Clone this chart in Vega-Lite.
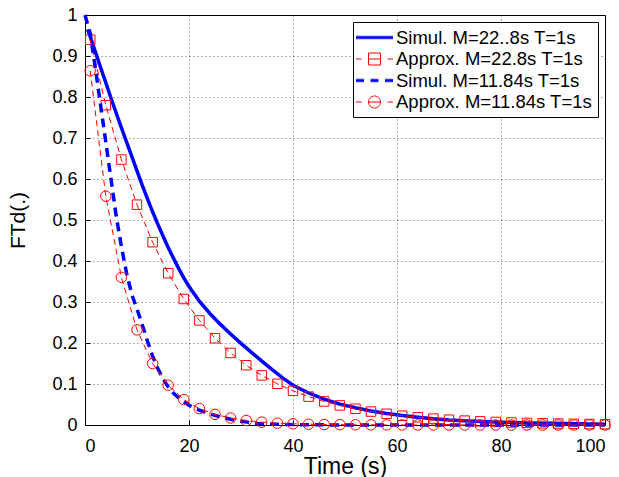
{
  "$schema": "https://vega.github.io/schema/vega-lite/v6.json",
  "width": 520,
  "height": 410,
  "autosize": "none",
  "padding": {"left": 85, "top": 15, "right": 14, "bottom": 52},
  "background": "white",
  "datasets": {
    "simul": [
      {"series": "Simul. M=22..8s T=1s", "t": 0.5, "F": 0.965},
      {"series": "Simul. M=22..8s T=1s", "t": 1, "F": 0.947},
      {"series": "Simul. M=22..8s T=1s", "t": 2, "F": 0.91},
      {"series": "Simul. M=22..8s T=1s", "t": 3, "F": 0.872},
      {"series": "Simul. M=22..8s T=1s", "t": 4, "F": 0.835},
      {"series": "Simul. M=22..8s T=1s", "t": 5, "F": 0.797},
      {"series": "Simul. M=22..8s T=1s", "t": 6, "F": 0.761},
      {"series": "Simul. M=22..8s T=1s", "t": 7, "F": 0.725},
      {"series": "Simul. M=22..8s T=1s", "t": 8, "F": 0.69},
      {"series": "Simul. M=22..8s T=1s", "t": 9, "F": 0.655},
      {"series": "Simul. M=22..8s T=1s", "t": 10, "F": 0.62},
      {"series": "Simul. M=22..8s T=1s", "t": 11, "F": 0.585},
      {"series": "Simul. M=22..8s T=1s", "t": 12, "F": 0.552},
      {"series": "Simul. M=22..8s T=1s", "t": 13, "F": 0.52},
      {"series": "Simul. M=22..8s T=1s", "t": 14, "F": 0.49},
      {"series": "Simul. M=22..8s T=1s", "t": 15, "F": 0.461},
      {"series": "Simul. M=22..8s T=1s", "t": 16, "F": 0.433},
      {"series": "Simul. M=22..8s T=1s", "t": 17, "F": 0.407},
      {"series": "Simul. M=22..8s T=1s", "t": 18, "F": 0.382},
      {"series": "Simul. M=22..8s T=1s", "t": 19, "F": 0.359},
      {"series": "Simul. M=22..8s T=1s", "t": 20, "F": 0.338},
      {"series": "Simul. M=22..8s T=1s", "t": 22, "F": 0.302},
      {"series": "Simul. M=22..8s T=1s", "t": 24, "F": 0.272},
      {"series": "Simul. M=22..8s T=1s", "t": 26, "F": 0.246},
      {"series": "Simul. M=22..8s T=1s", "t": 28, "F": 0.222},
      {"series": "Simul. M=22..8s T=1s", "t": 30, "F": 0.199},
      {"series": "Simul. M=22..8s T=1s", "t": 32, "F": 0.177},
      {"series": "Simul. M=22..8s T=1s", "t": 34, "F": 0.156},
      {"series": "Simul. M=22..8s T=1s", "t": 36, "F": 0.135},
      {"series": "Simul. M=22..8s T=1s", "t": 38, "F": 0.115},
      {"series": "Simul. M=22..8s T=1s", "t": 40, "F": 0.097},
      {"series": "Simul. M=22..8s T=1s", "t": 43, "F": 0.078},
      {"series": "Simul. M=22..8s T=1s", "t": 46, "F": 0.063},
      {"series": "Simul. M=22..8s T=1s", "t": 49, "F": 0.051},
      {"series": "Simul. M=22..8s T=1s", "t": 52, "F": 0.042},
      {"series": "Simul. M=22..8s T=1s", "t": 55, "F": 0.034},
      {"series": "Simul. M=22..8s T=1s", "t": 58, "F": 0.028},
      {"series": "Simul. M=22..8s T=1s", "t": 61, "F": 0.023},
      {"series": "Simul. M=22..8s T=1s", "t": 64, "F": 0.019},
      {"series": "Simul. M=22..8s T=1s", "t": 67, "F": 0.015},
      {"series": "Simul. M=22..8s T=1s", "t": 70, "F": 0.012},
      {"series": "Simul. M=22..8s T=1s", "t": 75, "F": 0.009},
      {"series": "Simul. M=22..8s T=1s", "t": 80, "F": 0.007},
      {"series": "Simul. M=22..8s T=1s", "t": 85, "F": 0.005},
      {"series": "Simul. M=22..8s T=1s", "t": 90, "F": 0.004},
      {"series": "Simul. M=22..8s T=1s", "t": 95, "F": 0.003},
      {"series": "Simul. M=22..8s T=1s", "t": 100, "F": 0.002},
      {"series": "Simul. M=11.84s T=1s", "t": 0, "F": 1.0},
      {"series": "Simul. M=11.84s T=1s", "t": 1, "F": 0.955},
      {"series": "Simul. M=11.84s T=1s", "t": 2, "F": 0.87},
      {"series": "Simul. M=11.84s T=1s", "t": 3, "F": 0.78},
      {"series": "Simul. M=11.84s T=1s", "t": 4, "F": 0.69},
      {"series": "Simul. M=11.84s T=1s", "t": 5, "F": 0.6},
      {"series": "Simul. M=11.84s T=1s", "t": 6, "F": 0.51},
      {"series": "Simul. M=11.84s T=1s", "t": 7, "F": 0.435},
      {"series": "Simul. M=11.84s T=1s", "t": 8, "F": 0.37},
      {"series": "Simul. M=11.84s T=1s", "t": 9, "F": 0.318},
      {"series": "Simul. M=11.84s T=1s", "t": 10, "F": 0.283},
      {"series": "Simul. M=11.84s T=1s", "t": 11, "F": 0.245},
      {"series": "Simul. M=11.84s T=1s", "t": 12, "F": 0.205},
      {"series": "Simul. M=11.84s T=1s", "t": 13, "F": 0.168},
      {"series": "Simul. M=11.84s T=1s", "t": 14, "F": 0.138},
      {"series": "Simul. M=11.84s T=1s", "t": 15, "F": 0.113},
      {"series": "Simul. M=11.84s T=1s", "t": 16, "F": 0.093},
      {"series": "Simul. M=11.84s T=1s", "t": 17, "F": 0.078},
      {"series": "Simul. M=11.84s T=1s", "t": 18, "F": 0.066},
      {"series": "Simul. M=11.84s T=1s", "t": 19, "F": 0.057},
      {"series": "Simul. M=11.84s T=1s", "t": 20, "F": 0.048},
      {"series": "Simul. M=11.84s T=1s", "t": 22, "F": 0.036},
      {"series": "Simul. M=11.84s T=1s", "t": 24, "F": 0.027},
      {"series": "Simul. M=11.84s T=1s", "t": 26, "F": 0.02},
      {"series": "Simul. M=11.84s T=1s", "t": 28, "F": 0.014},
      {"series": "Simul. M=11.84s T=1s", "t": 30, "F": 0.009},
      {"series": "Simul. M=11.84s T=1s", "t": 33, "F": 0.004},
      {"series": "Simul. M=11.84s T=1s", "t": 36, "F": 0.002},
      {"series": "Simul. M=11.84s T=1s", "t": 40, "F": 0.001},
      {"series": "Simul. M=11.84s T=1s", "t": 50, "F": 0.0},
      {"series": "Simul. M=11.84s T=1s", "t": 100, "F": 0.0}
    ],
    "approx": [
      {"series": "Approx. M=22.8s T=1s", "t": 1, "F": 0.9398},
      {"series": "Approx. M=22.8s T=1s", "t": 4, "F": 0.78},
      {"series": "Approx. M=22.8s T=1s", "t": 7, "F": 0.6474},
      {"series": "Approx. M=22.8s T=1s", "t": 10, "F": 0.5374},
      {"series": "Approx. M=22.8s T=1s", "t": 13, "F": 0.446},
      {"series": "Approx. M=22.8s T=1s", "t": 16, "F": 0.3702},
      {"series": "Approx. M=22.8s T=1s", "t": 19, "F": 0.3073},
      {"series": "Approx. M=22.8s T=1s", "t": 22, "F": 0.255},
      {"series": "Approx. M=22.8s T=1s", "t": 25, "F": 0.2117},
      {"series": "Approx. M=22.8s T=1s", "t": 28, "F": 0.1757},
      {"series": "Approx. M=22.8s T=1s", "t": 31, "F": 0.1458},
      {"series": "Approx. M=22.8s T=1s", "t": 34, "F": 0.121},
      {"series": "Approx. M=22.8s T=1s", "t": 37, "F": 0.1005},
      {"series": "Approx. M=22.8s T=1s", "t": 40, "F": 0.0834},
      {"series": "Approx. M=22.8s T=1s", "t": 43, "F": 0.0692},
      {"series": "Approx. M=22.8s T=1s", "t": 46, "F": 0.0574},
      {"series": "Approx. M=22.8s T=1s", "t": 49, "F": 0.0477},
      {"series": "Approx. M=22.8s T=1s", "t": 52, "F": 0.0396},
      {"series": "Approx. M=22.8s T=1s", "t": 55, "F": 0.0328},
      {"series": "Approx. M=22.8s T=1s", "t": 58, "F": 0.0273},
      {"series": "Approx. M=22.8s T=1s", "t": 61, "F": 0.0226},
      {"series": "Approx. M=22.8s T=1s", "t": 64, "F": 0.0188},
      {"series": "Approx. M=22.8s T=1s", "t": 67, "F": 0.0156},
      {"series": "Approx. M=22.8s T=1s", "t": 70, "F": 0.0129},
      {"series": "Approx. M=22.8s T=1s", "t": 73, "F": 0.0107},
      {"series": "Approx. M=22.8s T=1s", "t": 76, "F": 0.0089},
      {"series": "Approx. M=22.8s T=1s", "t": 79, "F": 0.0074},
      {"series": "Approx. M=22.8s T=1s", "t": 82, "F": 0.0061},
      {"series": "Approx. M=22.8s T=1s", "t": 85, "F": 0.0051},
      {"series": "Approx. M=22.8s T=1s", "t": 88, "F": 0.0042},
      {"series": "Approx. M=22.8s T=1s", "t": 91, "F": 0.0035},
      {"series": "Approx. M=22.8s T=1s", "t": 94, "F": 0.0029},
      {"series": "Approx. M=22.8s T=1s", "t": 97, "F": 0.0024},
      {"series": "Approx. M=22.8s T=1s", "t": 100, "F": 0.002},
      {"series": "Approx. M=11.84s T=1s", "t": 1, "F": 0.864},
      {"series": "Approx. M=11.84s T=1s", "t": 4, "F": 0.558},
      {"series": "Approx. M=11.84s T=1s", "t": 7, "F": 0.36},
      {"series": "Approx. M=11.84s T=1s", "t": 10, "F": 0.232},
      {"series": "Approx. M=11.84s T=1s", "t": 13, "F": 0.15},
      {"series": "Approx. M=11.84s T=1s", "t": 16, "F": 0.097},
      {"series": "Approx. M=11.84s T=1s", "t": 19, "F": 0.062},
      {"series": "Approx. M=11.84s T=1s", "t": 22, "F": 0.04},
      {"series": "Approx. M=11.84s T=1s", "t": 25, "F": 0.026},
      {"series": "Approx. M=11.84s T=1s", "t": 28, "F": 0.017},
      {"series": "Approx. M=11.84s T=1s", "t": 31, "F": 0.011},
      {"series": "Approx. M=11.84s T=1s", "t": 34, "F": 0.007},
      {"series": "Approx. M=11.84s T=1s", "t": 37, "F": 0.0045},
      {"series": "Approx. M=11.84s T=1s", "t": 40, "F": 0.0029},
      {"series": "Approx. M=11.84s T=1s", "t": 43, "F": 0.0019},
      {"series": "Approx. M=11.84s T=1s", "t": 46, "F": 0.0012},
      {"series": "Approx. M=11.84s T=1s", "t": 49, "F": 0.0008},
      {"series": "Approx. M=11.84s T=1s", "t": 52, "F": 0.0005},
      {"series": "Approx. M=11.84s T=1s", "t": 55, "F": 0.0003},
      {"series": "Approx. M=11.84s T=1s", "t": 58, "F": 0.0002},
      {"series": "Approx. M=11.84s T=1s", "t": 61, "F": 0.0001},
      {"series": "Approx. M=11.84s T=1s", "t": 64, "F": 0.0001},
      {"series": "Approx. M=11.84s T=1s", "t": 67, "F": 0.0},
      {"series": "Approx. M=11.84s T=1s", "t": 70, "F": 0.0},
      {"series": "Approx. M=11.84s T=1s", "t": 73, "F": 0.0},
      {"series": "Approx. M=11.84s T=1s", "t": 76, "F": 0.0},
      {"series": "Approx. M=11.84s T=1s", "t": 79, "F": 0.0},
      {"series": "Approx. M=11.84s T=1s", "t": 82, "F": 0.0},
      {"series": "Approx. M=11.84s T=1s", "t": 85, "F": 0.0},
      {"series": "Approx. M=11.84s T=1s", "t": 88, "F": 0.0},
      {"series": "Approx. M=11.84s T=1s", "t": 91, "F": 0.0},
      {"series": "Approx. M=11.84s T=1s", "t": 94, "F": 0.0},
      {"series": "Approx. M=11.84s T=1s", "t": 97, "F": 0.0},
      {"series": "Approx. M=11.84s T=1s", "t": 100, "F": 0.0}
    ],
    "legend": [
      {"series": "Simul. M=22..8s T=1s"},
      {"series": "Approx. M=22.8s T=1s"},
      {"series": "Simul. M=11.84s T=1s"},
      {"series": "Approx. M=11.84s T=1s"}
    ]
  },
  "resolve": {"axis": {"x": "independent", "y": "independent"}},
  "layer": [
    {
      "data": {"name": "simul"},
      "transform": [{"filter": "datum.series === 'Simul. M=22..8s T=1s'"}],
      "mark": {"type": "line", "color": "#0000ff", "strokeWidth": 3.5},
      "encoding": {
        "x": {"field": "t", "type": "quantitative", "scale": {"domain": [0, 100], "nice": false},
              "axis": {"orient": "bottom", "values": [0, 20, 40, 60, 80, 100], "grid": true, "title": "Time (s)", "titleFontSize": 23, "labelPadding": 17, "titlePadding": 0}},
        "y": {"field": "F", "type": "quantitative", "scale": {"domain": [0, 1], "nice": false},
              "axis": {"orient": "left", "values": [0, 0.1, 0.2, 0.3, 0.4, 0.5, 0.6, 0.7, 0.8, 0.9, 1], "format": "~g", "grid": true, "title": "FTd(.)", "titleFontSize": 21, "labelPadding": 13, "titlePadding": 23}}
      }
    },
    {
      "data": {"name": "approx"},
      "transform": [{"filter": "datum.series === 'Approx. M=22.8s T=1s'"}],
      "layer": [
        {
          "mark": {"type": "line", "color": "#ff0000", "strokeWidth": 1, "strokeDash": [6, 4]},
          "encoding": {
            "x": {"field": "t", "type": "quantitative", "axis": null},
            "y": {"field": "F", "type": "quantitative", "axis": null}
          }
        },
        {
          "mark": {"type": "point", "shape": "square", "size": 90, "filled": false, "color": "#ff0000", "strokeWidth": 1, "opacity": 1},
          "encoding": {
            "x": {"field": "t", "type": "quantitative", "axis": null},
            "y": {"field": "F", "type": "quantitative", "axis": null}
          }
        }
      ]
    },
    {
      "data": {"name": "simul"},
      "transform": [{"filter": "datum.series === 'Simul. M=11.84s T=1s'"}],
      "mark": {"type": "line", "color": "#0000ff", "strokeWidth": 3.5, "strokeDash": [9, 6]},
      "encoding": {
        "x": {"field": "t", "type": "quantitative", "axis": null},
        "y": {"field": "F", "type": "quantitative", "axis": null}
      }
    },
    {
      "data": {"name": "approx"},
      "transform": [{"filter": "datum.series === 'Approx. M=11.84s T=1s'"}],
      "layer": [
        {
          "mark": {"type": "line", "color": "#ff0000", "strokeWidth": 1, "strokeDash": [6, 4]},
          "encoding": {
            "x": {"field": "t", "type": "quantitative", "axis": null},
            "y": {"field": "F", "type": "quantitative", "axis": null}
          }
        },
        {
          "mark": {"type": "point", "shape": "circle", "size": 110, "filled": false, "color": "#ff0000", "strokeWidth": 1, "opacity": 1},
          "encoding": {
            "x": {"field": "t", "type": "quantitative",
                  "axis": {"orient": "top", "values": [0, 20, 40, 60, 80, 100], "labels": false, "title": null, "grid": false, "domain": false}},
            "y": {"field": "F", "type": "quantitative",
                  "axis": {"orient": "right", "values": [0, 0.1, 0.2, 0.3, 0.4, 0.5, 0.6, 0.7, 0.8, 0.9, 1], "labels": false, "title": null, "grid": false, "domain": false}}
          }
        }
      ]
    },
    {
      "data": {"name": "legend"},
      "mark": {"type": "point", "filled": false, "strokeWidth": 1},
      "encoding": {
        "opacity": {"value": 0},
        "shape": {"field": "series", "type": "nominal",
                  "scale": {"domain": ["Simul. M=22..8s T=1s", "Approx. M=22.8s T=1s", "Simul. M=11.84s T=1s", "Approx. M=11.84s T=1s"],
                            "range": [
                              "M-1.85,-0.12H1.85M-1.85,0H1.85M-1.85,0.12H1.85",
                              "M-1.85,0H-1.3M-0.6,-0.6H0.6V0.6H-0.6ZM-0.6,0H0.6M1.3,0H1.85",
                              "M-1.85,-0.12H-1.05M-1.85,0H-1.05M-1.85,0.12H-1.05M-0.4,-0.12H0.4M-0.4,0H0.4M-0.4,0.12H0.4M1.05,-0.12H1.85M1.05,0H1.85M1.05,0.12H1.85",
                              "M-1.85,0H-1.3M0.6,0A0.6,0.6,0,1,1,-0.6,0A0.6,0.6,0,1,1,0.6,0M-0.6,0H0.6M1.3,0H1.85"]},
                  "legend": {"title": null, "orient": "top-right", "offset": 7}},
        "color": {"field": "series", "type": "nominal",
                  "scale": {"domain": ["Simul. M=22..8s T=1s", "Approx. M=22.8s T=1s", "Simul. M=11.84s T=1s", "Approx. M=11.84s T=1s"],
                            "range": ["#0000ff", "#ff0000", "#0000ff", "#ff0000"]},
                  "legend": {"title": null, "orient": "top-right", "offset": 7}}
      }
    }
  ],
  "config": {
    "view": {"stroke": "#000000", "strokeWidth": 1},
    "font": "Liberation Sans",
    "axis": {
      "domainColor": "#000000",
      "tickColor": "#000000",
      "tickSize": -5,
      "labelColor": "#000000",
      "titleColor": "#000000",
      "labelFont": "Liberation Sans",
      "titleFont": "Liberation Sans",
      "labelFontSize": 18,
      "titleFontWeight": "normal",
      "gridColor": "#000000",
      "gridOpacity": 0.6,
      "gridDash": [1, 3],
      "gridWidth": 1
    },
    "legend": {
      "labelFont": "Liberation Sans",
      "labelFontSize": 18.5,
      "labelColor": "#000000",
      "labelLimit": 400,
      "symbolSize": 400,
      "symbolOpacity": 1,
      "symbolStrokeWidth": 1,
      "symbolFillColor": "transparent",
      "strokeColor": "#000000",
      "fillColor": "#ffffff",
      "padding": 5,
      "rowPadding": 1.5,
      "labelOffset": 11,
      "symbolOffset": 6
    }
  }
}
